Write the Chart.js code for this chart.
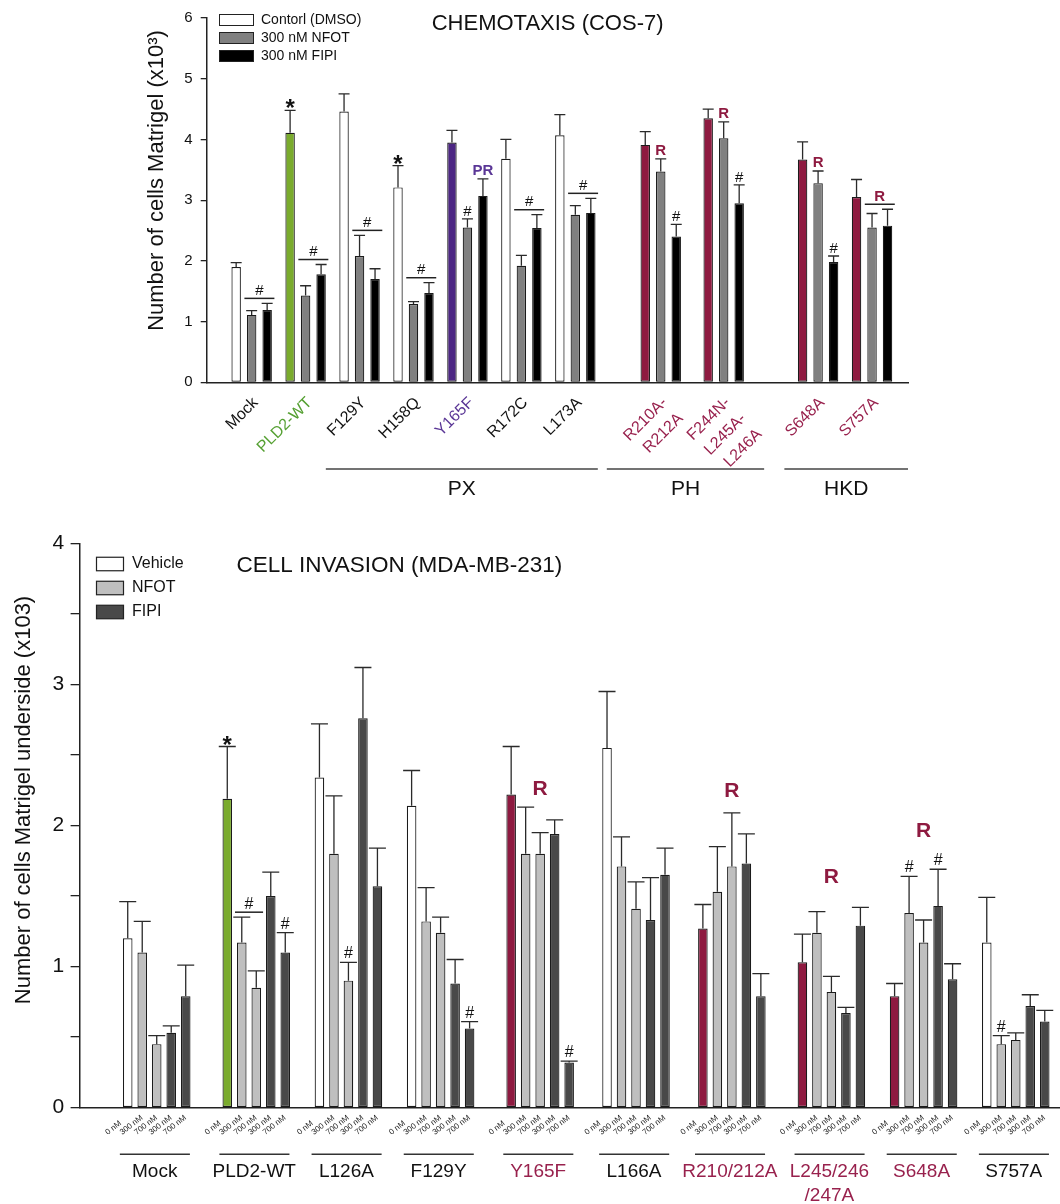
<!DOCTYPE html>
<html><head><meta charset="utf-8">
<script src="https://cdn.jsdelivr.net/npm/chart.js@4.4.1/dist/chart.umd.min.js"></script>
<style>
html,body{margin:0;padding:0;background:#fff;}
#c1{position:absolute;left:0;top:0;}
#c2{position:absolute;left:0;top:520px;}
</style></head><body>
<canvas id="c1" width="1060" height="510"></canvas>
<canvas id="c2" width="1060" height="684"></canvas>
<script>
// ================= DATA: top chart (Chemotaxis, COS-7) =================
const TOP_GROUPS = ['Mock','PLD2-WT','F129Y','H158Q','Y165F','R172C','L173A',['R210A-','R212A'],['F244N-','L245A-','L246A'],'S648A','S757A'];
const TOP_SERIES = ['Contorl (DMSO)','300 nM NFOT','300 nM FIPI'];
const TOP_CTRL     = [1.90, 4.11, 4.46, 3.21, 3.95, 3.68, 4.07, 3.91, 4.35, 3.67, 3.05];
const TOP_CTRL_ERR = [0.07, 0.37, 0.29, 0.36, 0.20, 0.32, 0.34, 0.22, 0.15, 0.29, 0.29];
const TOP_NFOT     = [1.11, 1.43, 2.08, 1.29, 2.55, 1.92, 2.76, 3.47, 4.02, 3.28, 2.55];
const TOP_NFOT_ERR = [0.07, 0.16, 0.34, 0.04, 0.14, 0.17, 0.15, 0.21, 0.27, 0.20, 0.23];
const TOP_FIPI     = [1.19, 1.78, 1.70, 1.47, 3.07, 2.54, 2.79, 2.40, 2.95, 1.98, 2.58];
const TOP_FIPI_ERR = [0.11, 0.16, 0.17, 0.17, 0.28, 0.22, 0.24, 0.20, 0.30, 0.10, 0.27];
const TOP_Y_TICKS  = [0, 1, 2, 3, 4, 5, 6];
const TOP_DOMAINS  = ['PX', 'PH', 'HKD'];
const TOP_TITLE    = 'CHEMOTAXIS (COS-7)';
const TOP_YTITLE   = 'Number of cells Matrigel (x10\u00B3)';
const TOP_MARKS = [
  {g:0, bars:[1,2], text:'#'},
  {g:1, bars:[0], text:'*'}, {g:1, bars:[1,2], text:'#'},
  {g:2, bars:[1,2], text:'#'},
  {g:3, bars:[0], text:'*'}, {g:3, bars:[1,2], text:'#'},
  {g:4, bars:[1], text:'#'}, {g:4, bars:[2], text:'PR'},
  {g:5, bars:[1,2], text:'#'},
  {g:6, bars:[1,2], text:'#'},
  {g:7, bars:[1], text:'R'}, {g:7, bars:[2], text:'#'},
  {g:8, bars:[1], text:'R'}, {g:8, bars:[2], text:'#'},
  {g:9, bars:[1], text:'R'}, {g:9, bars:[2], text:'#'},
  {g:10, bars:[1,2], text:'R'}
];

// ================= DATA: bottom chart (Cell invasion, MDA-MB-231) =================
const BOT_GROUPS = ['Mock','PLD2-WT','L126A','F129Y','Y165F','L166A','R210/212A',['L245/246','/247A'],'S648A','S757A'];
const BOT_SERIES = ['Vehicle 0 nM','NFOT 300 nM','NFOT 700 nM','FIPI 300 nM','FIPI 700 nM'];
const BOT_LEGEND = ['Vehicle','NFOT','FIPI'];
const DOSE_LABELS = ['0 nM','300 nM','700 nM','300 nM','700 nM'];
const BOT_VEH      = [1.20, 2.19, 2.34, 2.14, 2.22, 2.55, 1.27, 1.03, 0.79, 1.17];
const BOT_VEH_ERR  = [0.26, 0.37, 0.38, 0.25, 0.34, 0.40, 0.17, 0.20, 0.09, 0.32];
const BOT_N300     = [1.10, 1.17, 1.80, 1.32, 1.80, 1.71, 1.53, 1.24, 1.38, 0.45];
const BOT_N300_ERR = [0.22, 0.18, 0.41, 0.24, 0.33, 0.21, 0.32, 0.15, 0.26, 0.06];
const BOT_N700     = [0.45, 0.85, 0.90, 1.24, 1.80, 1.41, 1.71, 0.82, 1.17, 0.48];
const BOT_N700_ERR = [0.06, 0.12, 0.13, 0.11, 0.15, 0.19, 0.38, 0.11, 0.16, 0.05];
const BOT_F300     = [0.53, 1.50, 2.76, 0.88, 1.94, 1.33, 1.73, 0.67, 1.43, 0.72];
const BOT_F300_ERR = [0.05, 0.17, 0.36, 0.17, 0.10, 0.30, 0.21, 0.04, 0.26, 0.08];
const BOT_F700     = [0.79, 1.10, 1.57, 0.56, 0.32, 1.65, 0.79, 1.29, 0.91, 0.61];
const BOT_F700_ERR = [0.22, 0.14, 0.27, 0.05, 0.01, 0.19, 0.16, 0.13, 0.11, 0.08];
const BOT_Y_TICKS  = [0, 0.5, 1, 1.5, 2, 2.5, 3, 3.5, 4];
const BOT_Y_LABELS = ['0', '', '1', '', '2', '', '3', '', '4'];
const BOT_TITLE    = 'CELL INVASION (MDA-MB-231)';
const BOT_YTITLE   = 'Number of cells Matrigel underside (x103)';
const BOT_MARKS = [
  {g:1, bars:[0], text:'*'}, {g:1, bars:[1,2], text:'#'}, {g:1, bars:[4], text:'#'},
  {g:2, bars:[2], text:'#'},
  {g:3, bars:[4], text:'#'},
  {g:4, bars:[4], text:'#'},
  {g:8, bars:[1], text:'#'}, {g:8, bars:[3], text:'#'},
  {g:9, bars:[1], text:'#'}
];
const BOT_R_MARKS = [{g:4, at:2.26}, {g:6, at:2.24}, {g:7, at:1.63}, {g:8, at:1.96}];

// ================= LAYOUT & STYLE =================
const FONT = '"Liberation Sans", Arial, Helvetica, sans-serif';
const RED = '#8e1a40', RED_TXT = '#98214d', GREEN = '#7aab2d', GREEN_TXT = '#55a032', PURPLE = '#4c2683', PURPLE_TXT = '#5a3696';
const TOP_N = 157, TOP_SLOTS = [10,22,34,46,58,70,82,101,115,136,148];
const TOP_DOMAIN_SPAN = [[26.5,87],[89,124],[128.5,156]];
const TOP_FIRST_FILL = ['#fff', GREEN, '#fff', '#fff', PURPLE, '#fff', '#fff', RED, RED, RED, RED];
const TOP_LABEL_COLORS = ['#111', GREEN_TXT, '#111', '#111', PURPLE_TXT, '#111', '#111', RED_TXT, RED_TXT, RED_TXT, RED_TXT];
const TOP_FILLS = ['#fff', '#808080', '#000'];
const BOT_N = 267, BOT_SLOTS = [21,48,73,98,125,151,177,204,229,254];
const BOT_FIRST_FILL = ['#fff', GREEN, '#fff', '#fff', RED, '#fff', RED, RED, RED, '#fff'];
const BOT_LABEL_COLORS = ['#111','#111','#111','#111', RED_TXT, '#111', RED_TXT, RED_TXT, RED_TXT, '#111'];
const BOT_FILLS = ['#fff', '#bfbfbf', '#bfbfbf', '#494949', '#494949'];
const BOT_LEGEND_FILLS = ['#fff', '#bfbfbf', '#494949'];
const TOP_MARK_STYLE = {
  '#': {font:'15px '+FONT, color:'#111', gap:3},
  '*': {font:'bold 24px '+FONT, color:'#111', star:true},
  'R': {font:'bold 15px '+FONT, color:RED, gap:4},
  'PR': {font:'bold 15px '+FONT, color:PURPLE_TXT, gap:4}
};
const BOT_MARK_STYLE = {
  '#': {font:'16px '+FONT, color:'#111', gap:4},
  '*': {font:'bold 24px '+FONT, color:'#111', star:true}
};

Chart.defaults.font.family = FONT;
Chart.defaults.color = '#111';

function spread(values, slots, n) { const a = new Array(n).fill(null); slots.forEach((s, i) => a[s] = values[i]); return a; }
function labelsAt(names, slots, n) { const a = new Array(n).fill(''); slots.forEach((s, i) => a[s] = names[i]); return a; }
function groupOf(slots) { const m = {}; slots.forEach((s, i) => m[s] = i); return m; }
function txt(ctx, s, x, y, font, color, align, base, rot) {
  ctx.save(); ctx.translate(x, y); if (rot) ctx.rotate(rot);
  ctx.font = font; ctx.fillStyle = color; ctx.textAlign = align || 'center'; ctx.textBaseline = base || 'alphabetic';
  ctx.fillText(s, 0, 0); ctx.restore();
}
function hline(ctx, x1, x2, y, w, c) { ctx.save(); ctx.strokeStyle = c || '#333'; ctx.lineWidth = w || 1.5; ctx.beginPath(); ctx.moveTo(x1, y); ctx.lineTo(x2, y); ctx.stroke(); ctx.restore(); }
function drawErrors(chart, vals, errs, slots, capW) {
  const ctx = chart.ctx, ys = chart.scales.y;
  ctx.save(); ctx.strokeStyle = '#2a2a2a'; ctx.lineWidth = 1.3;
  vals.forEach((arr, d) => {
    const meta = chart.getDatasetMeta(d);
    slots.forEach((s, g) => {
      const el = meta.data[s]; if (!el) return;
      const yb = ys.getPixelForValue(arr[g]), yt = ys.getPixelForValue(arr[g] + errs[d][g]);
      ctx.beginPath(); ctx.moveTo(el.x, yb); ctx.lineTo(el.x, yt);
      ctx.moveTo(el.x - capW / 2, yt); ctx.lineTo(el.x + capW / 2, yt); ctx.stroke();
    });
  });
  ctx.restore();
}
function drawMarks(chart, marks, vals, errs, slots, styles, o) {
  const ctx = chart.ctx, ys = chart.scales.y;
  marks.forEach(m => {
    const st = styles[m.text];
    const els = m.bars.map(b => chart.getDatasetMeta(b).data[slots[m.g]]);
    const tops = m.bars.map(b => ys.getPixelForValue(vals[b][m.g] + errs[b][m.g]));
    const top = Math.min(...tops);
    const x = (els[0].x + els[els.length - 1].x) / 2;
    if (st.star) {
      txt(ctx, m.text, x, top - 8 + 0.59 * 24, st.font, st.color);
    } else if (m.bars.length > 1) {
      const ly = top - o.lineGap;
      hline(ctx, els[0].x - o.half - o.ext, els[els.length - 1].x + o.half + o.ext, ly, 1.5, '#222');
      txt(ctx, m.text, x, ly - 3.5, st.font, st.color);
    } else {
      txt(ctx, m.text, x, top - st.gap, st.font, st.color);
    }
  });
}

// ================= TOP CHART =================
const topVals = [TOP_CTRL, TOP_NFOT, TOP_FIPI];
const topErrs = [TOP_CTRL_ERR, TOP_NFOT_ERR, TOP_FIPI_ERR];
const topGroup = groupOf(TOP_SLOTS);
const topFill = [ctx => TOP_FIRST_FILL[topGroup[ctx.dataIndex]] || '#fff', TOP_FILLS[1], TOP_FILLS[2]];

const topPlugin = {
  id: 'topDecor',
  afterDatasetsDraw(chart) {
    drawErrors(chart, topVals, topErrs, TOP_SLOTS, 11);
    drawMarks(chart, TOP_MARKS, topVals, topErrs, TOP_SLOTS, TOP_MARK_STYLE, {lineGap: 5, half: 4.75, ext: 2.5});
  },
  afterDraw(chart) {
    const ctx = chart.ctx, xs = chart.scales.x;
    TOP_SERIES.forEach((name, i) => {
      const cy = 20 + i * 18;
      ctx.save(); ctx.fillStyle = TOP_FILLS[i]; ctx.fillRect(219, cy - 5.5, 34, 11);
      ctx.strokeStyle = '#222'; ctx.lineWidth = 1; ctx.strokeRect(219.5, cy - 5.5, 34, 11); ctx.restore();
      txt(ctx, name, 261, cy, '14px ' + FONT, '#111', 'left', 'middle');
    });
    txt(ctx, TOP_TITLE, 431.7, 30, '22px ' + FONT, '#111', 'left');
    txt(ctx, TOP_YTITLE, 157, 180.5, '22px ' + FONT, '#111', 'center', 'middle', -Math.PI / 2);
    TOP_DOMAINS.forEach((name, i) => {
      const x1 = xs.getPixelForValue(TOP_DOMAIN_SPAN[i][0]), x2 = xs.getPixelForValue(TOP_DOMAIN_SPAN[i][1]);
      hline(ctx, x1, x2, 469, 1.5, '#444');
      txt(ctx, name, (x1 + x2) / 2, 495, '21px ' + FONT, '#111');
    });
  }
};

new Chart(document.getElementById('c1'), {
  type: 'bar',
  data: {
    labels: labelsAt(TOP_GROUPS, TOP_SLOTS, TOP_N),
    datasets: topVals.map((v, d) => ({
      label: TOP_SERIES[d], data: spread(v, TOP_SLOTS, TOP_N), backgroundColor: topFill[d],
      borderColor: '#1b1b1b', borderWidth: 1.2, borderSkipped: false
    }))
  },
  options: {
    responsive: false, animation: false, events: [],
    layout: {padding: {left: 140, right: 152, top: 18, bottom: 0}},
    datasets: {bar: {categoryPercentage: 10.34, barPercentage: 0.61}},
    plugins: {legend: {display: false}, tooltip: {enabled: false}},
    scales: {
      x: {
        type: 'category', offset: false,
        grid: {display: false}, border: {display: true, color: '#222', width: 1.5},
        ticks: {autoSkip: false, maxRotation: 45, minRotation: 45, padding: 2, labelOffset: 4,
                font: {size: 16, lineHeight: 1.4}, color: c => TOP_LABEL_COLORS[topGroup[c.index]] || '#111'},
        afterFit: s => { s.height = 127.7; s.paddingLeft = 0; s.paddingRight = 0; }
      },
      y: {
        min: 0, max: 6,
        afterBuildTicks: s => { s.ticks = TOP_Y_TICKS.map(v => ({value: v})); },
        grid: {drawOnChartArea: false, drawTicks: true, tickLength: 6, color: '#222', lineWidth: 1.3},
        border: {display: true, color: '#222', width: 1.5},
        ticks: {padding: 8, font: {size: 15}, color: '#111'},
        afterFit: s => { s.width = 66.7; }
      }
    }
  },
  plugins: [topPlugin]
});

// ================= BOTTOM CHART =================
const botVals = [BOT_VEH, BOT_N300, BOT_N700, BOT_F300, BOT_F700];
const botErrs = [BOT_VEH_ERR, BOT_N300_ERR, BOT_N700_ERR, BOT_F300_ERR, BOT_F700_ERR];
const botGroup = groupOf(BOT_SLOTS);
const botFill = botVals.map((v, d) => d === 0 ? (ctx => BOT_FIRST_FILL[botGroup[ctx.dataIndex]] || '#fff') : BOT_FILLS[d]);

const botPlugin = {
  id: 'botDecor',
  afterDatasetsDraw(chart) {
    drawErrors(chart, botVals, botErrs, BOT_SLOTS, 17);
    drawMarks(chart, BOT_MARKS, botVals, botErrs, BOT_SLOTS, BOT_MARK_STYLE, {lineGap: 5, half: 4.8, ext: 2});
    const xs = chart.scales.x, ys = chart.scales.y;
    BOT_R_MARKS.forEach(m => txt(chart.ctx, 'R', xs.getPixelForValue(BOT_SLOTS[m.g]), ys.getPixelForValue(m.at), 'bold 21px ' + FONT, RED, 'center', 'middle'));
  },
  afterDraw(chart) {
    const ctx = chart.ctx, xs = chart.scales.x;
    BOT_LEGEND.forEach((name, i) => {
      const cy = 44 + i * 24;
      ctx.save(); ctx.fillStyle = BOT_LEGEND_FILLS[i]; ctx.fillRect(96, cy - 6.75, 27, 13.5);
      ctx.strokeStyle = '#222'; ctx.lineWidth = 1.2; ctx.strokeRect(96.5, cy - 6.75, 27, 13.5); ctx.restore();
      txt(ctx, name, 132, cy, '16px ' + FONT, '#111', 'left', 'middle');
    });
    txt(ctx, BOT_TITLE, 236.4, 52, '22.5px ' + FONT, '#111', 'left');
    txt(ctx, BOT_YTITLE, 24, 280, '22px ' + FONT, '#111', 'center', 'middle', -Math.PI / 2);
    DOSE_LABELS.forEach((lab, d) => {
      const meta = chart.getDatasetMeta(d);
      BOT_SLOTS.forEach(s => {
        const el = meta.data[s];
        txt(ctx, lab, el.x - 20, 615, '8px ' + FONT, '#222', 'left', 'alphabetic', -38 * Math.PI / 180);
      });
    });
    BOT_SLOTS.forEach(s => hline(ctx, xs.getPixelForValue(s - 10), xs.getPixelForValue(s + 9), 634.3, 1.5, '#333'));
  }
};

new Chart(document.getElementById('c2'), {
  type: 'bar',
  data: {
    labels: labelsAt(BOT_GROUPS, BOT_SLOTS, BOT_N),
    datasets: botVals.map((v, d) => ({
      label: BOT_SERIES[d], data: spread(v, BOT_SLOTS, BOT_N), backgroundColor: botFill[d],
      borderColor: '#1b1b1b', borderWidth: 1.2, borderSkipped: false
    }))
  },
  options: {
    responsive: false, animation: false, events: [],
    layout: {padding: {left: 0, right: 0, top: 23.4, bottom: 0}},
    datasets: {bar: {categoryPercentage: 19.66, barPercentage: 0.66}},
    plugins: {legend: {display: false}, tooltip: {enabled: false}},
    scales: {
      x: {
        type: 'category', offset: false,
        grid: {display: false}, border: {display: true, color: '#222', width: 1.5},
        ticks: {autoSkip: false, maxRotation: 0, minRotation: 0, padding: 44.6, labelOffset: -2,
                font: {size: 19, lineHeight: 1.24}, color: c => BOT_LABEL_COLORS[botGroup[c.index]] || '#111'},
        afterFit: s => { s.height = 96.4; s.paddingLeft = 0; s.paddingRight = 0; }
      },
      y: {
        min: 0, max: 4,
        afterBuildTicks: s => { s.ticks = BOT_Y_TICKS.map(v => ({value: v})); },
        grid: {drawOnChartArea: false, drawTicks: true, tickLength: 8.7, color: '#222', lineWidth: 1.3},
        border: {display: true, color: '#222', width: 1.5},
        ticks: {padding: 6.5, font: {size: 21}, color: '#111', callback: (v, i) => BOT_Y_LABELS[i]},
        afterFit: s => { s.width = 79.3; }
      }
    }
  },
  plugins: [botPlugin]
});
</script>
</body></html>
